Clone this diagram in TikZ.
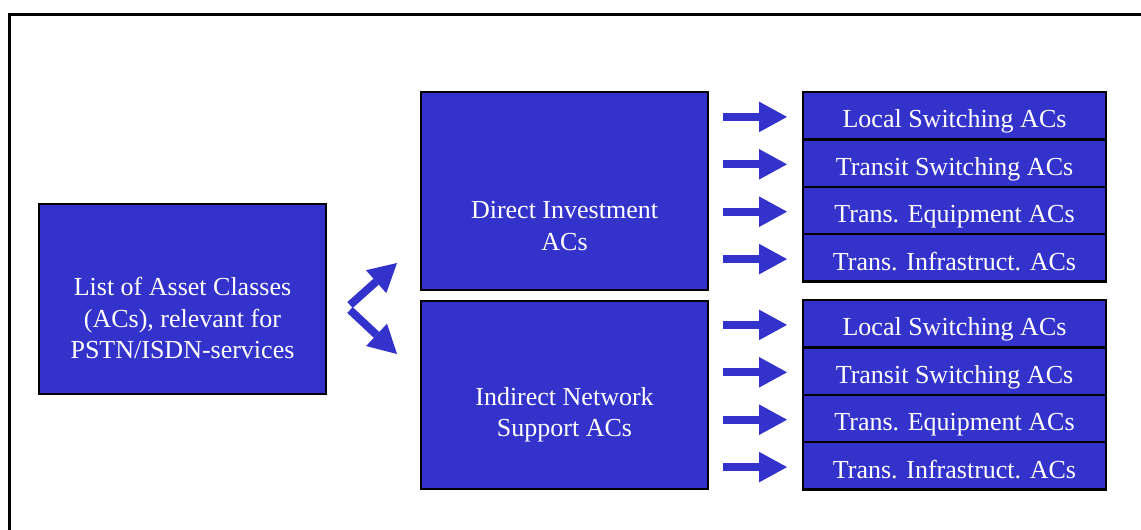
\documentclass[tikz,border=0pt]{standalone}
\usepackage{fontspec}
\setmainfont{Liberation Serif}
\usetikzlibrary{arrows.meta,calc}
\definecolor{boxblue}{RGB}{51,51,204}
\tikzset{
  acfont/.style={font=\fontsize{19.5}{23.3}\selectfont},
  acbox/.style={draw=black, line width=1.8pt, fill=boxblue, text=white,
    inner sep=0pt, align=center, acfont},
  bigbox/.style={acbox, minimum width=215.25pt},
  boxtext/.style={text=white, inner sep=0pt, align=center, acfont},
  smallbox/.style={acbox, minimum width=227.25pt, text height=26.95pt, text depth=8.6pt},
  blockarrow/.style={draw=boxblue, line width=6pt,
    -{Triangle[length=21pt, width=23pt, line width=0pt]}}
}
\begin{document}
\begin{tikzpicture}[x=0.75pt, y=-0.75pt]
\useasboundingbox (0,0) rectangle (1141,529);
\clip (0,0) rectangle (1141,529);
% open frame round the slide
\draw[line width=1.8pt] (9.5,560) |- (1170,14.5);

% source list
\node[bigbox, minimum height=142.5pt] (list) at (182.5,299) {};
\node[boxtext] (list text) at ($(list.center)+(0,19)$)
  {List of Asset Classes\\(ACs), relevant for\\PSTN/ISDN-services};

% the two groups
\node[bigbox, minimum height=148.5pt] (direct) at (564.5,191) {};
\node[boxtext] (direct text) at ($(direct.center)+(0,35)$)
  {Direct Investment\\ACs};
\node[bigbox, minimum height=141pt] (indirect) at (564.5,395) {};
\node[boxtext] (indirect text) at ($(indirect.center)+(0,20)$)
  {Indirect Network\\Support ACs};

% asset classes of each group
\foreach \g/\y in {d/92, i/300}{
  \foreach \k/\t [count=\n from 0] in {1/Local Switching ACs, 2/Transit Switching ACs,
      3/Trans. Equipment ACs, 4/Trans. Infrastruct. ACs}{
    \pgfmathsetmacro{\cy}{\y + 47.4*\n + 23.7}
    \node[smallbox] (\g\k) at (954.5,\cy) {\t};
    \coordinate (\g\k s) at (723,\cy+1.2);
    \coordinate (\g\k e) at (787,\cy+1.2);
    \draw[blockarrow] (\g\k s) -- (\g\k e);
  }
}

% split arrows from the list to the groups
\coordinate (fork up) at (350,305);
\coordinate (fork dn) at (350,310);
\coordinate (to direct) at (397,263);
\coordinate (to indirect) at (397,354);
\draw[blockarrow] (fork up) -- (to direct);
\draw[blockarrow] (fork dn) -- (to indirect);
\end{tikzpicture}
\end{document}
